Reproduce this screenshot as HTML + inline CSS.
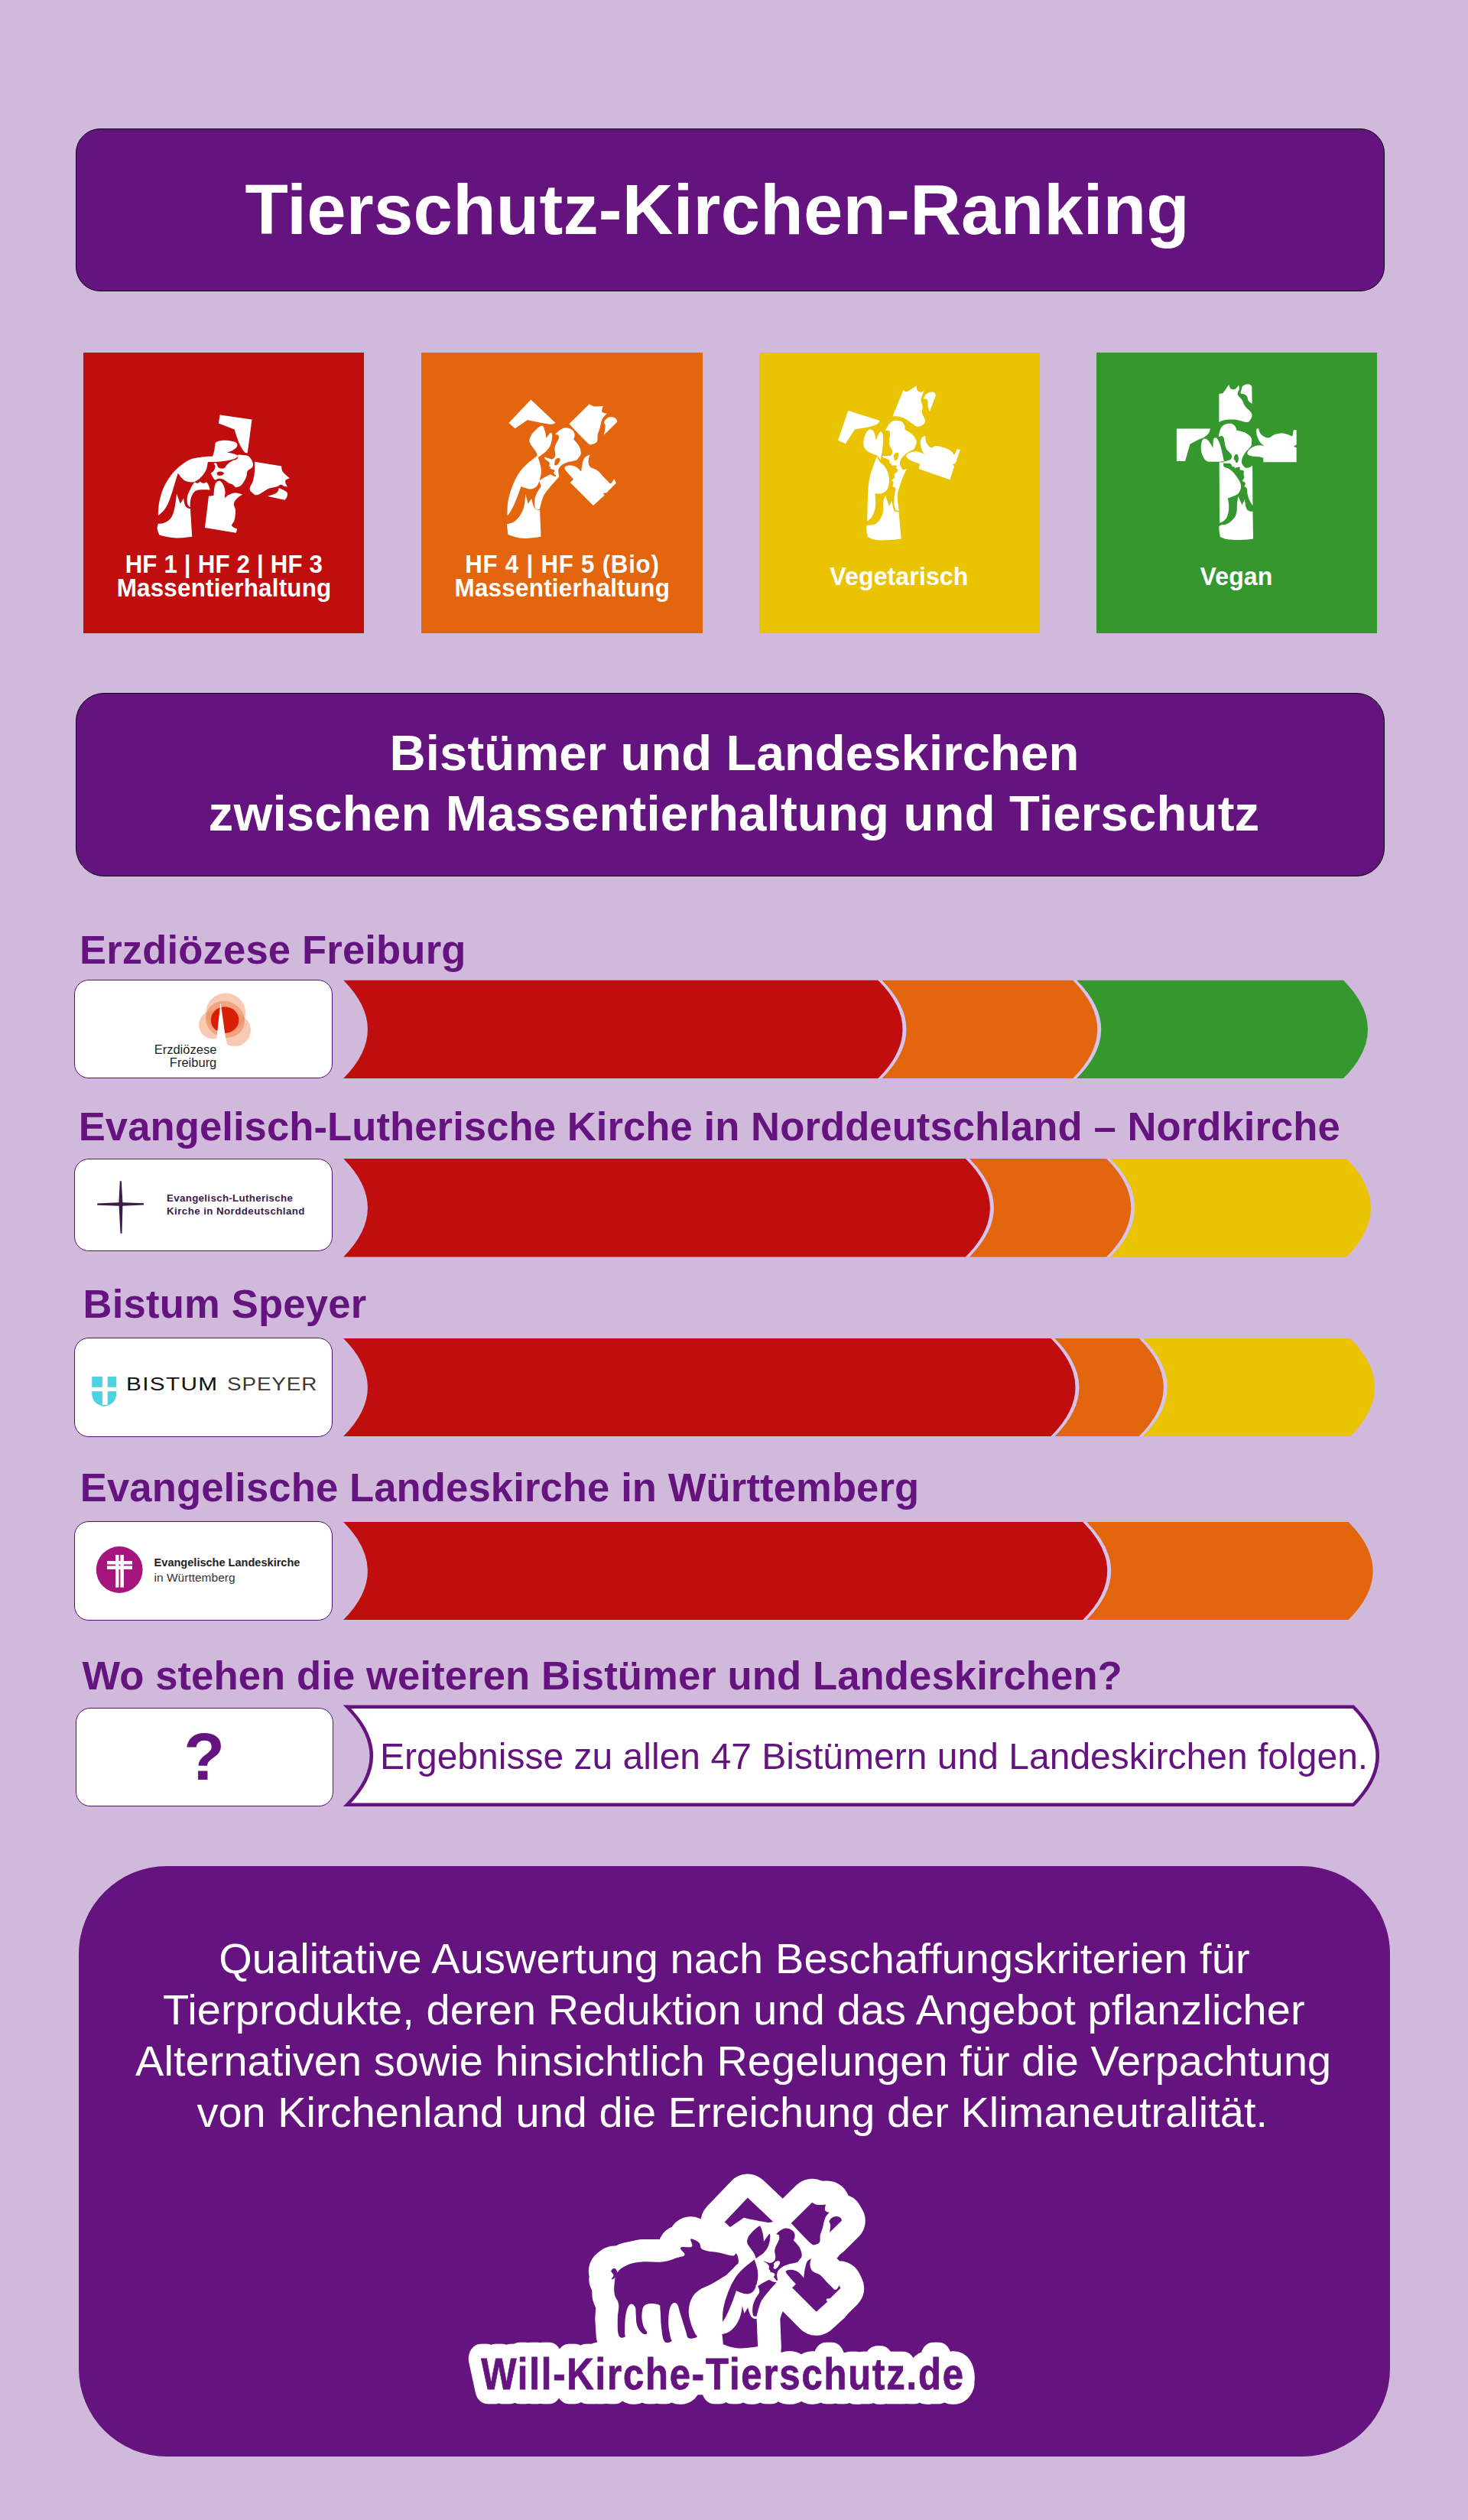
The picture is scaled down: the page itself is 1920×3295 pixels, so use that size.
<!DOCTYPE html>
<html lang="de"><head><meta charset="utf-8"><title>Tierschutz-Kirchen-Ranking</title>
<style>
html,body{margin:0;padding:0;background:#D1B9DB;}
body{width:1920px;height:3295px;background:#D1B9DB;position:relative;overflow:hidden;font-family:"Liberation Sans",sans-serif;}
.t{position:absolute;white-space:nowrap;}
.box{position:absolute;box-sizing:border-box;}
svg{position:absolute;left:0;top:0;}
</style></head><body>
<div class="box" style="left:99px;top:168px;width:1712px;height:212.5px;background:#64137F;border:1.6px solid #0a0410;border-radius:32px"></div>
<div class="box" style="left:99px;top:906px;width:1712.3px;height:240px;background:#64137F;border:1.6px solid #0a0410;border-radius:37px"></div>
<div class="box" style="left:102.5px;top:2439.6px;width:1715.2px;height:772.4px;background:#64137F;border-radius:115px"></div>
<div class="box" style="left:108.6px;top:460.5px;width:367.6px;height:367.6px;background:#C00E0E"></div>
<div class="box" style="left:551.0px;top:460.5px;width:367.6px;height:367.6px;background:#E3650E"></div>
<div class="box" style="left:992.7px;top:460.5px;width:367.6px;height:367.6px;background:#EAC403"></div>
<div class="box" style="left:1433.5px;top:460.5px;width:367.6px;height:367.6px;background:#35982F"></div>
<div class="box" style="left:97.1px;top:1280.7px;width:337.6px;height:129.5px;background:#fff;border:1.8px solid #56107A;border-radius:19px"></div>
<div class="box" style="left:97.1px;top:1514.6px;width:337.6px;height:121.6px;background:#fff;border:1.8px solid #56107A;border-radius:19px"></div>
<div class="box" style="left:97.1px;top:1748.9px;width:337.6px;height:129.8px;background:#fff;border:1.8px solid #56107A;border-radius:19px"></div>
<div class="box" style="left:97.1px;top:1989.1px;width:337.6px;height:129.8px;background:#fff;border:1.8px solid #56107A;border-radius:19px"></div>
<div class="box" style="left:98.5px;top:2232.8px;width:337.4px;height:129.6px;background:#fff;border:1.5px solid #56107A;border-radius:19px"></div>
<svg width="1920" height="3295" viewBox="0 0 1920 3295">
<path d="M1147.9,1281.8Q1211.9,1345.9 1147.9,1410L1154.1,1410Q1218.1,1345.9 1154.1,1281.8Z" fill="#D6C4EC"/>
<path d="M1402.6000000000001,1281.8Q1466.6000000000001,1345.9 1402.6000000000001,1410L1408.8,1410Q1472.8,1345.9 1408.8,1281.8Z" fill="#D6C4EC"/>
<path d="M449.2,1281.8L1148.5,1281.8Q1212.5,1345.9 1148.5,1410L449.2,1410Q512.6,1345.9 449.2,1281.8Z" fill="#C00E0E"/>
<path d="M1153.5,1281.8L1403.2,1281.8Q1467.2,1345.9 1403.2,1410L1153.5,1410Q1217.5,1345.9 1153.5,1281.8Z" fill="#E3650E"/>
<path d="M1408.2,1281.8L1757,1281.8Q1821,1345.9 1757,1410L1408.2,1410Q1472.2,1345.9 1408.2,1281.8Z" fill="#35982F"/>
<path d="M1262.3000000000002,1515Q1326.3000000000002,1579.25 1262.3000000000002,1643.5L1268.5,1643.5Q1332.5,1579.25 1268.5,1515Z" fill="#D6C4EC"/>
<path d="M1446.6000000000001,1515Q1510.6000000000001,1579.25 1446.6000000000001,1643.5L1452.8,1643.5Q1516.8,1579.25 1452.8,1515Z" fill="#D6C4EC"/>
<path d="M449.2,1515L1262.9,1515Q1326.9,1579.25 1262.9,1643.5L449.2,1643.5Q512.6,1579.25 449.2,1515Z" fill="#C00E0E"/>
<path d="M1267.9,1515L1447.2,1515Q1511.2,1579.25 1447.2,1643.5L1267.9,1643.5Q1331.9,1579.25 1267.9,1515Z" fill="#E3650E"/>
<path d="M1452.2,1515L1761,1515Q1825,1579.25 1761,1643.5L1452.2,1643.5Q1516.2,1579.25 1452.2,1515Z" fill="#EAC403"/>
<path d="M1373.9,1750Q1437.9,1814.0 1373.9,1878L1380.1,1878Q1444.1,1814.0 1380.1,1750Z" fill="#D6C4EC"/>
<path d="M1489.2,1750Q1553.2,1814.0 1489.2,1878L1495.3999999999999,1878Q1559.3999999999999,1814.0 1495.3999999999999,1750Z" fill="#D6C4EC"/>
<path d="M449.2,1750L1374.5,1750Q1438.5,1814.0 1374.5,1878L449.2,1878Q512.6,1814.0 449.2,1750Z" fill="#C00E0E"/>
<path d="M1379.5,1750L1489.8,1750Q1553.8,1814.0 1489.8,1878L1379.5,1878Q1443.5,1814.0 1379.5,1750Z" fill="#E3650E"/>
<path d="M1494.8,1750L1766,1750Q1830,1814.0 1766,1878L1494.8,1878Q1558.8,1814.0 1494.8,1750Z" fill="#EAC403"/>
<path d="M1415.6000000000001,1990Q1479.6000000000001,2054.0 1415.6000000000001,2118L1421.8,2118Q1485.8,2054.0 1421.8,1990Z" fill="#D6C4EC"/>
<path d="M449.2,1990L1416.2,1990Q1480.2,2054.0 1416.2,2118L449.2,2118Q512.6,2054.0 449.2,1990Z" fill="#C00E0E"/>
<path d="M1421.2,1990L1763.6,1990Q1827.6,2054.0 1763.6,2118L1421.2,2118Q1485.2,2054.0 1421.2,1990Z" fill="#E3650E"/>
<path d="M454,2231.8L1770,2231.8Q1833.4,2295.8 1770,2359.8L454,2359.8Q517.6,2295.8 454,2231.8Z" fill="#fff" stroke="#64137F" stroke-width="4.4" stroke-linejoin="miter"/>
<g transform="translate(190,530) scale(0.14306)"><path fill="#fff"  d="M682,88L975,130L935,435C935.0,435.0 917.5,439.2 905,425C892.5,410.8 875.0,384.2 860,350C845.0,315.8 815.0,220.0 815,220L670,165L682,88Z"/><path fill="#fff"  d="M640,345C640.0,345.0 648.3,332.2 665,328C681.7,323.8 712.5,318.0 740,320C767.5,322.0 813.7,330.3 830,340C846.3,349.7 843.0,366.3 838,378C833.0,389.7 815.5,401.3 800,410C784.5,418.7 745.0,430.0 745,430C745.0,430.0 781.7,435.0 800,440C818.3,445.0 855.0,460.0 855,460C855.0,460.0 839.2,479.2 820,487C800.8,494.8 770.0,502.0 740,507C710.0,512.0 668.3,515.7 640,517C611.7,518.3 570.0,515.0 570,515C570.0,515.0 602.0,485.8 612,470C622.0,454.2 625.3,440.8 630,420C634.7,399.2 640.0,345.0 640,345Z"/><path fill="#fff"  d="M620,470C608.0,462.5 536.7,470.0 500,475C463.3,480.0 433.3,484.2 400,500C366.7,515.8 330.0,543.3 300,570C270.0,596.7 243.3,626.7 220,660C196.7,693.3 175.8,730.0 160,770C144.2,810.0 132.0,860.3 125,900C118.0,939.7 118.0,1008.0 118,1008C118.0,1008.0 153.8,981.3 170,960C186.2,938.7 201.7,910.0 215,880C228.3,850.0 239.2,813.3 250,780C260.8,746.7 271.7,707.0 280,680C288.3,653.0 300.0,618.0 300,618C300.0,618.0 318.3,647.7 330,660C341.7,672.3 353.3,685.0 370,692C386.7,699.0 411.7,703.7 430,702C448.3,700.3 463.3,693.7 480,682C496.7,670.3 516.7,649.0 530,632C543.3,615.0 553.0,598.7 560,580C567.0,561.3 572.0,520.0 572,520C572.0,520.0 632.0,477.5 620,470Z"/><path fill="#fff"  d="M118,1082C118.0,1082.0 155.6,1084.4 180,1072C204.4,1059.6 222.0,1048.4 240,1020C258.0,991.6 260.6,972.4 270,930C279.4,887.6 287.0,808.0 287,808L320,900L350,850C350.0,850.0 357.6,906.0 370,925C382.4,944.0 412.0,945.0 412,945L428,1200C428.0,1200.0 345.6,1211.6 300,1212C254.4,1212.4 234.0,1207.4 200,1202C166.0,1196.6 130.0,1185.0 130,1185C130.0,1185.0 112.4,1150.6 110,1130C107.6,1109.4 118.0,1082.0 118,1082Z"/><path fill="#fff"  d="M430,730C436.7,718.3 450.0,700.0 450,700C450.0,700.0 471.7,712.8 480,712C488.3,711.2 500.0,695.0 500,695C500.0,695.0 520.0,711.2 530,712C540.0,712.8 560.0,700.0 560,700C560.0,700.0 574.7,718.0 580,730C585.3,742.0 592.0,772.0 592,772C592.0,772.0 558.7,769.5 540,770C521.3,770.5 496.7,770.0 480,775C463.3,780.0 450.8,785.8 440,800C429.2,814.2 420.0,838.0 415,860C410.0,882.0 410.0,932.0 410,932C410.0,932.0 389.2,917.0 385,900C380.8,883.0 380.8,851.7 385,830C389.2,808.3 402.5,786.7 410,770C417.5,753.3 423.3,741.7 430,730Z"/><path fill="#fff"  d="M580,830L625,825C625.0,825.0 629.9,744.8 640,720C650.1,695.2 666.2,688.2 680,690C693.8,691.8 705.8,711.7 715,730C724.2,748.3 728.2,768.0 730,790C731.8,812.0 725.0,850.0 725,850C725.0,850.0 742.6,829.2 760,820C777.4,810.8 796.2,800.9 820,800C843.8,799.1 890.0,815.0 890,815C890.0,815.0 854.7,834.4 840,850C825.3,865.6 812.8,879.8 810,900C807.2,920.2 824.1,932.5 825,960C825.9,987.5 821.4,1024.3 815,1050C808.6,1075.7 785.4,1085.3 790,1100C794.6,1114.7 840.0,1130.0 840,1130L830,1165L545,1118L580,830Z"/><path fill="#fff"  d="M850,450C850.0,450.0 883.3,451.7 900,455C916.7,458.3 935.8,457.5 950,470C964.2,482.5 980.8,513.3 985,530C989.2,546.7 983.3,558.3 975,570C966.7,581.7 943.3,586.7 935,600C926.7,613.3 930.8,633.3 925,650C919.2,666.7 909.2,685.8 900,700C890.8,714.2 882.5,726.7 870,735C857.5,743.3 825.0,750.0 825,750C825.0,750.0 810.8,731.7 800,725C789.2,718.3 773.3,717.5 760,710C746.7,702.5 735.0,686.7 720,680C705.0,673.3 683.3,669.7 670,670C656.7,670.3 648.3,683.7 640,682C631.7,680.3 626.7,670.3 620,660C613.3,649.7 600.0,620.0 600,620C600.0,620.0 618.3,610.0 625,600C631.7,590.0 640.0,571.7 640,560C640.0,548.3 625.0,530.0 625,530C625.0,530.0 642.5,523.3 650,530C657.5,536.7 658.3,562.5 670,570C681.7,577.5 706.7,580.0 720,575C733.3,570.0 738.3,550.8 750,540C761.7,529.2 775.0,518.3 790,510C805.0,501.7 830.0,500.0 840,490C850.0,480.0 850.0,450.0 850,450Z"/><path fill="#C00E0E"  d="M655,615C659.2,609.2 679.2,604.2 690,605C700.8,605.8 718.3,614.2 720,620C721.7,625.8 709.2,636.7 700,640C690.8,643.3 672.5,644.2 665,640C657.5,635.8 650.8,620.8 655,615Z"/><path fill="#fff"  d="M1000,515L1245,555C1245.0,555.0 1245.0,588.0 1260,610C1275.0,632.0 1320.0,665.0 1320,665C1320.0,665.0 1284.0,674.0 1280,690C1276.0,706.0 1300.0,745.0 1300,745C1300.0,745.0 1282.0,744.0 1270,740C1258.0,736.0 1254.0,724.0 1240,725C1226.0,726.0 1222.0,738.0 1200,745C1178.0,752.0 1154.0,751.0 1130,760C1106.0,769.0 1102.0,778.0 1080,790C1058.0,802.0 1040.0,818.0 1020,820C1000.0,822.0 993.0,812.0 980,800C967.0,788.0 954.0,782.0 955,760C956.0,738.0 976.0,722.0 985,690C994.0,658.0 997.0,635.0 1000,600C1003.0,565.0 1000.0,515.0 1000,515Z"/><path fill="#fff"  d="M1220,755C1220.0,755.0 1274.6,775.0 1290,790C1305.4,805.0 1300.0,815.0 1297,830C1294.0,845.0 1275.0,865.0 1275,865L1115,830C1115.0,830.0 1179.0,815.0 1200,800C1221.0,785.0 1220.0,755.0 1220,755Z"/></g>
<g transform="translate(640,510) scale(0.14306)"><path fill="#fff"  d="M380,88L605,300C605.0,300.0 580.8,312.0 560,312C539.2,312.0 506.7,304.5 480,300C453.3,295.5 421.7,289.7 400,285C378.3,280.3 350.0,272.0 350,272L235,352L178,300L380,88Z"/><path fill="#fff"  d="M915,128C915.0,128.0 939.2,147.2 960,150C980.8,152.8 1040.0,145.0 1040,145C1040.0,145.0 1024.2,188.3 1030,200C1035.8,211.7 1075.0,215.0 1075,215C1075.0,215.0 1040.8,247.5 1030,270C1019.2,292.5 1016.7,326.7 1010,350C1003.3,373.3 994.2,390.0 990,410C985.8,430.0 993.3,455.8 985,470C976.7,484.2 955.0,493.3 940,495C925.0,496.7 930.0,510.8 895,480C860.0,449.2 730.0,310.0 730,310L915,128Z"/><path fill="#fff"  d="M1090,250C1110.0,243.0 1134.0,247.0 1150,255C1166.0,263.0 1170.0,290.0 1170,290L1048,410C1048.0,410.0 1059.6,354.0 1060,330C1060.4,306.0 1044.0,306.0 1050,290C1056.0,274.0 1070.0,257.0 1090,250Z"/><path fill="#fff"  d="M480,325C496.7,325.0 503.3,360.8 510,380C516.7,399.2 520.0,440.0 520,440C520.0,440.0 550.8,393.3 560,390C569.2,386.7 575.0,401.7 575,420C575.0,438.3 569.2,476.7 560,500C550.8,523.3 533.3,545.0 520,560C506.7,575.0 493.3,580.0 480,590C466.7,600.0 440.0,620.0 440,620C440.0,620.0 441.7,593.3 430,570C418.3,546.7 379.2,503.3 370,480C360.8,456.7 368.3,446.7 375,430C381.7,413.3 392.5,397.5 410,380C427.5,362.5 463.3,325.0 480,325Z"/><path fill="#fff"  d="M602.3,403.4C602.3,403.4 620.6,384.8 632.8,374.9C645.0,365.0 651.0,360.0 663.2,353.9C675.4,347.8 681.5,345.5 693.7,344.4C705.9,343.3 712.8,344.8 724.2,348.2C735.6,351.6 741.8,355.4 750.9,361.5C760.0,367.6 764.2,369.9 769.9,378.7C775.6,387.5 777.9,394.6 779.4,405.3C780.9,416.0 779.4,422.8 777.5,432.0C775.6,441.2 769.9,451.1 769.9,451.1C769.9,451.1 778.3,458.7 785.2,466.3C792.1,473.9 796.6,478.5 804.2,489.2C811.8,499.9 817.2,506.7 823.3,519.6C829.4,532.5 832.0,540.9 834.7,553.9C837.4,566.9 837.7,574.5 836.6,584.4C835.5,594.3 829.0,603.5 829.0,603.5C829.0,603.5 821.3,611.9 815.6,618.7C809.9,625.5 807.3,632.4 800.4,637.7C793.5,643.0 781.3,645.4 781.3,645.4C781.3,645.4 766.1,648.8 754.7,651.1C743.3,653.4 736.4,653.4 724.2,656.8C712.0,660.2 704.4,663.6 693.7,668.2C683.0,672.8 679.3,674.4 670.9,679.7C662.5,685.0 658.7,688.1 651.8,694.9C644.9,701.7 640.8,705.5 636.6,713.9C632.4,722.3 631.7,727.6 630.9,736.8C630.1,746.0 631.3,749.0 632.8,759.7C634.3,770.4 638.5,790.1 638.5,790.1C638.5,790.1 624.7,804.6 617.5,801.6C610.3,798.6 608.4,784.0 602.3,774.9C596.2,765.8 587.8,763.5 587.0,755.9C586.2,748.3 600.0,742.9 598.5,736.8C597.0,730.7 588.5,729.2 579.4,725.4C570.3,721.6 552.8,717.8 552.8,717.8C552.8,717.8 561.9,710.9 560.4,706.3C558.9,701.7 545.1,694.9 545.1,694.9C545.1,694.9 548.1,689.6 548.9,683.5C549.7,677.4 552.7,672.0 548.9,664.4C545.1,656.8 537.9,652.3 529.9,645.4C521.9,638.5 513.9,637.0 508.9,630.1C503.9,623.2 505.1,611.1 505.1,611.1C505.1,611.1 518.1,615.7 526.1,618.7C534.1,621.7 536.0,623.6 545.1,626.3C554.2,629.0 562.7,632.8 571.8,632.0C580.9,631.2 584.7,628.2 590.8,622.5C596.9,616.8 600.0,612.6 602.3,603.5C604.6,594.4 603.4,589.8 602.3,576.8C601.2,563.8 595.8,553.9 596.6,538.7C597.4,523.5 601.2,514.3 606.1,500.6C611.0,486.9 615.6,482.3 621.3,470.1C627.0,457.9 632.4,451.0 634.7,439.6C637.0,428.2 632.8,413.0 632.8,413.0L602.3,403.4Z"/><path fill="#E3650E"  d="M598.5,645.4C602.3,637.8 609.1,630.5 617.5,626.3C625.9,622.1 634.3,622.1 640.4,624.4C646.5,626.7 648.8,629.7 648.0,637.7C647.2,645.7 643.5,654.5 636.6,664.4C629.7,674.3 622.1,683.5 613.7,687.3C605.3,691.1 597.7,688.1 594.7,683.5C591.7,678.9 597.7,672.0 598.5,664.4C599.3,656.8 594.7,653.0 598.5,645.4Z"/><path fill="#fff"  d="M440,600C440.0,600.0 465.0,670.0 470,700C475.0,730.0 475.0,751.7 470,780C465.0,808.3 455.0,849.2 440,870C425.0,890.8 405.0,903.3 380,905C355.0,906.7 290.0,880.0 290,880C290.0,880.0 265.0,953.3 250,990C235.0,1026.7 214.2,1073.3 200,1100C185.8,1126.7 165.0,1150.0 165,1150C165.0,1150.0 162.5,1065.0 170,1020C177.5,975.0 193.3,923.3 210,880C226.7,836.7 248.3,793.3 270,760C291.7,726.7 311.7,706.7 340,680C368.3,653.3 440.0,600.0 440,600Z"/><path fill="#fff"  d="M560,770C560.0,770.0 586.7,786.7 600,790C613.3,793.3 640.0,790.0 640,790C640.0,790.0 583.3,851.7 560,880C536.7,908.3 515.0,931.7 500,960C485.0,988.3 476.7,1028.3 470,1050C463.3,1071.7 460.0,1090.0 460,1090C460.0,1090.0 427.5,1095.0 420,1080C412.5,1065.0 411.7,1025.0 415,1000C418.3,975.0 430.8,950.0 440,930C449.2,910.0 467.5,896.7 470,880C472.5,863.3 455.0,830.0 455,830C455.0,830.0 482.5,810.0 500,800C517.5,790.0 560.0,770.0 560,770Z"/><path fill="#fff"  d="M330,950L355,1040L385,990C385.0,990.0 399.6,1059.0 415,1080C430.4,1101.0 462.0,1095.0 462,1095L472,1340C472.0,1340.0 360.4,1359.0 300,1355C239.6,1351.0 170.0,1320.0 170,1320L160,1225C160.0,1225.0 204.0,1219.0 230,1200C256.0,1181.0 272.0,1160.0 290,1130C308.0,1100.0 312.0,1086.0 320,1050C328.0,1014.0 330.0,950.0 330,950Z"/><path fill="#fff"  d="M740,845L770,815C770.0,815.0 698.3,740.8 690,720C681.7,699.2 703.3,693.3 720,690C736.7,686.7 770.0,690.8 790,700C810.0,709.2 840.0,745.0 840,745C840.0,745.0 845.0,700.8 850,680C855.0,659.2 858.3,635.0 870,620C881.7,605.0 920.0,590.0 920,590C920.0,590.0 905.0,631.7 905,650C905.0,668.3 910.8,688.3 920,700C929.2,711.7 946.7,712.5 960,720C973.3,727.5 986.7,733.3 1000,745C1013.3,756.7 1026.7,775.8 1040,790C1053.3,804.2 1068.3,819.2 1080,830C1091.7,840.8 1100.0,858.3 1110,855C1120.0,851.7 1140.0,810.0 1140,810L1160,850L1070,940C1070.0,940.0 1042.5,941.7 1040,945C1037.5,948.3 1055.0,960.0 1055,960L950,1055L740,845Z"/></g>
<g transform="translate(1080,490) scale(0.14306)"><path fill="#fff"  d="M710,140C710.0,140.0 725.0,158.3 740,155C755.0,151.7 785.0,129.2 800,120C815.0,110.8 830.0,100.0 830,100C830.0,100.0 828.3,130.0 835,140C841.7,150.0 859.2,160.0 870,160C880.8,160.0 900.0,140.0 900,140C900.0,140.0 890.0,165.0 885,180C880.0,195.0 870.0,211.7 870,230C870.0,248.3 883.3,270.0 885,290C886.7,310.0 875.8,328.3 880,350C884.2,371.7 908.3,402.5 910,420C911.7,437.5 901.7,445.8 890,455C878.3,464.2 856.7,476.7 840,475C823.3,473.3 808.3,456.7 790,445C771.7,433.3 748.3,415.0 730,405C711.7,395.0 699.7,389.2 680,385C660.3,380.8 612.0,380.0 612,380L710,140Z"/><path fill="#fff"  d="M940,165C957.0,158.0 977.0,155.0 990,160C1003.0,165.0 1005.0,190.0 1005,190L950,335C950.0,335.0 939.0,311.0 935,290C931.0,269.0 938.0,244.0 930,230C922.0,216.0 895.0,220.0 895,220C895.0,220.0 896.0,206.0 905,195C914.0,184.0 923.0,172.0 940,165Z"/><path fill="#fff"  d="M205,328L495,420C495.0,420.0 485.8,440.8 470,450C454.2,459.2 425.0,468.3 400,475C375.0,481.7 342.5,485.8 320,490C297.5,494.2 265.0,500.0 265,500L180,630L112,600L205,328Z"/><path fill="#fff"  d="M400,500C412.5,496.7 430.0,503.3 440,520C450.0,536.7 460.0,600.0 460,600C460.0,600.0 480.8,541.7 490,530C499.2,518.3 509.2,518.3 515,530C520.8,541.7 525.0,571.7 525,600C525.0,628.3 519.2,670.0 515,700C510.8,730.0 500.0,780.0 500,780C500.0,780.0 486.7,751.7 470,740C453.3,728.3 419.2,721.7 400,710C380.8,698.3 364.2,686.7 355,670C345.8,653.3 343.3,631.7 345,610C346.7,588.3 355.8,558.3 365,540C374.2,521.7 387.5,503.3 400,500Z"/><path fill="#fff"  d="M545.0,510.0C545.0,510.0 556.6,486.2 565.2,472.7C573.8,459.2 578.0,452.5 587.8,442.7C597.6,432.9 602.7,428.7 614.1,423.7C625.5,418.7 632.7,417.9 644.8,417.5C656.9,417.1 664.0,418.9 674.8,421.8C685.6,424.7 690.4,425.6 698.7,432.2C707.0,438.8 711.5,445.0 716.4,454.8C721.3,464.6 722.0,471.7 723.1,481.2C724.2,490.7 722.0,502.1 722.0,502.1C722.0,502.1 732.5,506.7 741.6,511.8C750.7,516.9 756.5,520.0 767.3,527.8C778.1,535.6 785.5,540.4 795.5,550.9C805.5,561.4 810.8,568.7 817.5,580.3C824.2,591.9 827.1,599.2 829.2,609.1C831.3,619.0 828.0,630.0 828.0,630.0C828.0,630.0 823.3,640.6 820.0,649.0C816.7,657.4 816.3,664.8 811.4,672.2C806.5,679.6 795.5,685.8 795.5,685.8C795.5,685.8 782.0,693.9 771.7,699.8C761.4,705.7 754.8,707.9 744.1,715.1C733.4,722.3 727.2,728.0 718.4,735.9C709.6,743.8 706.5,746.5 700.1,754.4C693.7,762.3 690.9,766.4 686.5,775.2C682.1,784.0 679.3,789.0 678.0,798.4C676.7,807.8 677.7,813.2 679.9,822.3C682.1,831.4 684.2,834.0 689.1,843.8C694.0,853.6 704.4,871.2 704.4,871.2C704.4,871.2 695.8,889.7 687.8,889.1C679.8,888.5 673.4,875.1 664.6,868.2C655.8,861.3 646.9,861.9 643.7,854.8C640.5,847.7 652.0,838.1 648.6,832.7C645.2,827.3 636.5,828.6 626.5,827.9C616.5,827.2 598.4,829.1 598.4,829.1C598.4,829.1 605.0,819.5 602.1,815.6C599.2,811.7 583.7,809.5 583.7,809.5C583.7,809.5 584.8,803.4 583.6,797.3C582.4,791.2 583.6,785.0 577.5,778.9C571.4,772.8 563.0,770.7 553.1,766.7C543.2,762.7 534.9,763.7 527.9,758.7C520.9,753.7 518.1,741.6 518.1,741.6C518.1,741.6 532.1,741.8 540.8,742.1C549.5,742.4 551.9,743.7 561.6,743.3C571.3,742.9 580.6,744.0 589.2,740.3C597.8,736.6 600.4,732.5 604.4,725.0C608.4,717.5 610.1,712.6 609.4,703.0C608.7,693.4 606.1,689.3 600.8,677.2C595.5,665.1 587.2,657.2 583.0,642.3C578.8,627.4 579.5,617.3 579.9,602.5C580.3,587.7 583.2,581.8 584.8,568.2C586.4,554.6 589.4,546.3 587.9,534.5C586.4,522.7 577.5,509.4 577.5,509.4L545.0,510.0Z"/><path fill="#EAC403"  d="M619.2,744.6C620.4,736.0 624.7,726.8 631.4,720.0C638.1,713.2 646.3,710.6 652.9,710.8C659.5,711.0 662.7,713.2 664.5,721.2C666.3,729.2 665.5,738.8 662.1,750.6C658.7,762.4 654.3,773.7 647.4,780.1C640.5,786.5 632.2,785.9 627.8,782.5C623.4,779.1 627.0,770.5 625.3,762.9C623.6,755.3 618.0,753.2 619.2,744.6Z"/><path fill="#fff"  d="M490,790C501.7,805.8 526.7,821.7 540,840C553.3,858.3 563.3,876.7 570,900C576.7,923.3 581.7,955.0 580,980C578.3,1005.0 571.7,1032.5 560,1050C548.3,1067.5 528.3,1079.2 510,1085C491.7,1090.8 450.0,1085.0 450,1085C450.0,1085.0 455.0,1125.8 455,1150C455.0,1174.2 455.8,1205.0 450,1230C444.2,1255.0 431.7,1281.7 420,1300C408.3,1318.3 380.0,1340.0 380,1340C380.0,1340.0 381.7,1165.0 385,1100C388.3,1035.0 390.8,996.7 400,950C409.2,903.3 428.3,854.2 440,820C451.7,785.8 470.0,745.0 470,745C470.0,745.0 478.3,774.2 490,790Z"/><path fill="#fff"  d="M660,855C660.0,855.0 686.7,869.2 700,870C713.3,870.8 740.0,860.0 740,860C740.0,860.0 711.7,920.0 700,950C688.3,980.0 677.5,1015.0 670,1040C662.5,1065.0 656.7,1076.7 655,1100C653.3,1123.3 657.5,1156.7 660,1180C662.5,1203.3 670.0,1240.0 670,1240L640,1240C640.0,1240.0 626.7,1205.0 625,1180C623.3,1155.0 627.5,1113.3 630,1090C632.5,1066.7 643.3,1051.7 640,1040C636.7,1028.3 610.0,1020.0 610,1020C610.0,1020.0 621.7,994.2 620,985C618.3,975.8 600.0,965.0 600,965C600.0,965.0 625.8,949.2 630,940C634.2,930.8 625.0,910.0 625,910C625.0,910.0 649.2,894.2 655,885C660.8,875.8 660.0,855.0 660,855Z"/><path fill="#fff"  d="M545,1105L580,1200L605,1150C605.0,1150.0 612.6,1220.0 625,1240C637.4,1260.0 667.0,1250.0 667,1250L690,1500C690.0,1500.0 646.0,1508.0 600,1510C554.0,1512.0 503.0,1516.0 460,1510C417.0,1504.0 385.0,1480.0 385,1480C385.0,1480.0 370.0,1421.0 370,1400C370.0,1379.0 371.0,1381.0 385,1375C399.0,1369.0 419.0,1379.0 440,1370C461.0,1361.0 473.0,1354.0 490,1330C507.0,1306.0 518.0,1282.0 525,1250C532.0,1218.0 521.0,1199.0 525,1170C529.0,1141.0 545.0,1105.0 545,1105Z"/><path fill="#fff"  d="M910,560C910.0,560.0 911.7,602.5 920,620C928.3,637.5 945.0,660.0 960,665C975.0,670.0 988.3,649.2 1010,650C1031.7,650.8 1066.7,661.7 1090,670C1113.3,678.3 1135.8,690.0 1150,700C1164.2,710.0 1166.7,733.3 1175,730C1183.3,726.7 1200.0,680.0 1200,680L1230,685L1185,810C1185.0,810.0 1161.7,815.8 1160,820C1158.3,824.2 1175.0,835.0 1175,835L1135,960L850,860L860,815C860.0,815.0 800.8,795.8 780,785C759.2,774.2 738.3,761.7 735,750C731.7,738.3 744.2,723.3 760,715C775.8,706.7 808.3,699.2 830,700C851.7,700.8 876.7,714.2 890,720C903.3,725.8 910.0,735.0 910,735C910.0,735.0 887.5,709.2 880,690C872.5,670.8 865.0,639.2 865,620C865.0,600.8 872.5,585.0 880,575C887.5,565.0 910.0,560.0 910,560Z"/></g>
<g transform="translate(1520,490) scale(0.14306)"><path fill="#fff"  d="M520,175L555,170L610,90C610.0,90.0 620.0,123.3 630,130C640.0,136.7 658.3,135.8 670,130C681.7,124.2 700.0,95.0 700,95C700.0,95.0 706.7,115.8 705,130C703.3,144.2 685.8,163.3 690,180C694.2,196.7 718.3,211.7 730,230C741.7,248.3 746.7,271.7 760,290C773.3,308.3 800.0,324.2 810,340C820.0,355.8 823.3,370.0 820,385C816.7,400.0 801.7,422.5 790,430C778.3,437.5 768.3,433.0 750,430C731.7,427.0 705.0,415.3 680,412C655.0,408.7 621.7,408.7 600,410C578.3,411.3 563.3,415.8 550,420C536.7,424.2 520.0,435.0 520,435L520,175Z"/><path fill="#fff"  d="M740,100C753.0,90.0 774.0,84.0 790,85C806.0,86.0 820.0,105.0 820,105L822,265C822.0,265.0 800.4,255.0 790,240C779.6,225.0 785.0,204.0 770,190C755.0,176.0 715.0,170.0 715,170C715.0,170.0 720.0,149.0 725,135C730.0,121.0 727.0,110.0 740,100Z"/><path fill="#fff"  d="M132,493L440,493C440.0,493.0 434.2,522.2 425,535C415.8,547.8 400.8,560.0 385,570C369.2,580.0 351.7,584.2 330,595C308.3,605.8 255.0,635.0 255,635L210,790L132,790L132,493Z"/><path fill="#fff"  d="M380,585C390.0,581.7 405.8,585.8 420,600C434.2,614.2 465.0,670.0 465,670C465.0,670.0 464.2,605.0 470,590C475.8,575.0 490.0,571.7 500,580C510.0,588.3 521.7,616.7 530,640C538.3,663.3 544.2,695.0 550,720C555.8,745.0 565.0,790.0 565,790C565.0,790.0 545.8,795.0 520,795C494.2,795.0 435.0,799.2 410,790C385.0,780.8 379.2,758.3 370,740C360.8,721.7 356.7,700.0 355,680C353.3,660.0 355.8,635.8 360,620C364.2,604.2 370.0,588.3 380,585Z"/><path fill="#fff"  d="M515.0,568.0C515.0,568.0 519.1,541.9 523.2,526.5C527.3,511.1 529.3,503.4 535.7,491.2C542.1,479.0 545.8,473.5 555.1,465.3C564.4,457.1 571.0,454.3 582.4,450.3C593.8,446.3 601.2,445.8 612.3,445.4C623.4,445.0 628.2,444.5 638.1,448.3C648.0,452.1 654.1,456.6 661.7,464.5C669.3,472.4 672.1,478.9 676.0,487.6C679.9,496.3 681.0,507.8 681.0,507.8C681.0,507.8 692.4,509.0 702.6,511.2C712.8,513.4 719.2,514.6 731.8,518.8C744.4,523.0 752.9,525.4 765.6,532.4C778.3,539.4 785.4,544.8 795.3,553.9C805.2,563.0 810.0,569.0 814.9,577.8C819.8,586.6 820.0,598.0 820.0,598.0C820.0,598.0 818.6,609.4 818.0,618.4C817.4,627.4 819.3,634.6 816.8,643.1C814.3,651.6 805.6,660.7 805.6,660.7C805.6,660.7 795.2,672.5 787.2,681.2C779.2,689.9 773.5,694.0 765.5,704.0C757.5,714.0 753.2,721.3 747.2,731.4C741.2,741.5 739.0,745.0 735.3,754.4C731.6,763.8 730.2,768.5 728.6,778.2C727.0,787.9 725.9,793.4 727.4,802.8C728.9,812.2 731.4,817.1 736.2,825.1C741.0,833.1 743.8,834.9 751.4,842.7C759.0,850.5 774.1,864.3 774.1,864.3C774.1,864.3 771.5,884.5 763.7,886.3C755.9,888.1 745.7,877.2 735.3,873.3C724.9,869.4 716.6,872.6 711.5,866.8C706.4,861.0 714.5,848.4 709.6,844.3C704.7,840.2 697.0,843.9 687.2,846.2C677.4,848.5 660.8,855.8 660.8,855.8C660.8,855.8 664.2,844.7 660.2,841.8C656.2,838.9 640.9,841.5 640.9,841.5C640.9,841.5 640.2,835.4 637.2,829.9C634.2,824.4 633.5,818.2 625.9,814.2C618.3,810.2 609.6,810.7 599.0,809.8C588.4,808.9 580.8,812.4 572.7,809.7C564.6,807.0 558.3,796.4 558.3,796.4C558.3,796.4 571.7,792.4 580.1,790.1C588.5,787.8 591.1,788.3 600.2,785.1C609.3,781.9 618.4,780.0 625.5,774.0C632.6,768.0 633.9,763.2 635.5,754.9C637.1,746.6 637.2,741.4 633.7,732.5C630.2,723.6 626.4,720.5 617.8,710.5C609.2,700.5 599.0,695.6 590.6,682.6C582.2,669.6 579.9,659.8 575.8,645.6C571.7,631.4 572.7,625.0 570.2,611.6C567.7,598.2 568.0,589.3 563.1,578.5C558.2,567.7 545.8,557.8 545.8,557.8L515.0,568.0Z"/><path fill="#35982F"  d="M655.4,769.1C654.0,760.6 655.3,750.6 659.7,742.2C664.1,733.8 671.0,728.7 677.4,727.0C683.8,725.3 687.4,726.5 691.5,733.5C695.6,740.5 697.7,750.0 698.0,762.2C698.3,774.4 697.4,786.5 692.8,794.6C688.2,802.7 680.1,804.7 674.9,802.7C669.7,800.7 670.6,791.5 666.7,784.8C662.8,778.1 656.8,777.6 655.4,769.1Z"/><path fill="#fff"  d="M522,800L565,800C565.0,800.0 554.0,827.0 565,840C576.0,853.0 597.0,847.0 620,865C643.0,883.0 660.0,901.0 680,930C700.0,959.0 716.0,980.0 720,1010C724.0,1040.0 714.0,1060.0 700,1080C686.0,1100.0 670.0,1100.0 650,1110C630.0,1120.0 600.0,1130.0 600,1130C600.0,1130.0 610.0,1170.0 610,1200C610.0,1230.0 608.0,1254.0 600,1280C592.0,1306.0 585.0,1315.0 570,1330C555.0,1345.0 525.0,1355.0 525,1355L522,800Z"/><path fill="#fff"  d="M760,850C760.0,850.0 777.0,854.0 790,850C803.0,846.0 825.0,830.0 825,830L828,1195C828.0,1195.0 809.6,1171.0 800,1150C790.4,1129.0 785.0,1112.0 780,1090C775.0,1068.0 781.0,1054.0 775,1040C769.0,1026.0 750.0,1020.0 750,1020C750.0,1020.0 764.0,1000.0 760,990C756.0,980.0 730.0,970.0 730,970C730.0,970.0 747.0,954.0 750,940C753.0,926.0 743.0,918.0 745,900C747.0,882.0 760.0,850.0 760,850Z"/><path fill="#fff"  d="M695,1110L730,1190L755,1140C755.0,1140.0 760.4,1208.0 775,1230C789.6,1252.0 828.0,1250.0 828,1250L832,1500C832.0,1500.0 766.4,1509.0 720,1510C673.6,1511.0 638.0,1511.0 600,1505C562.0,1499.0 530.0,1480.0 530,1480C530.0,1480.0 519.0,1421.0 520,1400C521.0,1379.0 521.0,1382.0 535,1375C549.0,1368.0 567.0,1376.0 590,1365C613.0,1354.0 632.0,1341.0 650,1320C668.0,1299.0 673.0,1288.0 680,1260C687.0,1232.0 682.0,1210.0 685,1180C688.0,1150.0 695.0,1110.0 695,1110Z"/><path fill="#fff"  d="M880,490C880.0,490.0 891.0,528.0 900,540C909.0,552.0 928.0,564.8 940,570C952.0,575.2 966.5,578.8 980,575C993.5,571.2 1012.0,551.0 1030,545C1048.0,539.0 1080.5,534.2 1100,535C1119.5,535.8 1146.5,546.2 1160,550C1173.5,553.8 1184.0,566.8 1190,560C1196.0,553.2 1200.0,505.0 1200,505L1228,505L1228,640C1228.0,640.0 1205.0,651.2 1205,655C1205.0,658.8 1228.0,665.0 1228,665L1228,798L925,798L925,760C925.0,760.0 895.8,752.2 880,750C864.2,747.8 835.0,748.8 820,745C805.0,741.2 784.5,733.2 780,725C775.5,716.8 781.0,700.5 790,690C799.0,679.5 823.5,661.8 840,655C856.5,648.2 885.8,645.0 900,645C914.2,645.0 935.0,655.0 935,655C935.0,655.0 900.5,625.8 890,610C879.5,594.2 869.2,566.5 865,550C860.8,533.5 859.8,509.0 862,500C864.2,491.0 880.0,490.0 880,490Z"/></g>
<g><circle cx="295.2" cy="1324.5" r="26" fill="#F19468" fill-opacity="0.5"/><circle cx="278.5" cy="1340" r="18.5" fill="#F19468" fill-opacity="0.5"/><circle cx="307" cy="1347" r="21" fill="#F19468" fill-opacity="0.5"/><clipPath id="efc"><circle cx="295.2" cy="1324.5" r="26"/><circle cx="278.5" cy="1340" r="18.5"/><circle cx="307" cy="1347" r="21"/></clipPath><ellipse cx="294.5" cy="1333" rx="26" ry="23.5" fill="#EC7F50" fill-opacity="0.5" clip-path="url(#efc)" transform="rotate(25 294.5 1333)"/><ellipse cx="294.1" cy="1333.7" rx="18.3" ry="17.2" fill="#D81E05"/><polygon points="288.5,1311 282.6,1364 296.6,1368" fill="#fff"/><polygon points="282.8,1358 282,1372 298,1372 295.6,1358" fill="#fff"/></g>
<path fill="#3b1c4a" d="M156.8,1544.3 L158.8,1544.3 L160.4,1572.2 L188,1573.3 L188,1575.5 L160.4,1576.8 L159.5,1612.8 L157.5,1612.8 L155.6,1576.8 L127.2,1575.7 L127.2,1573.5 L155.4,1572.2 Z"/>
<path fill="#4DD2E2" d="M120.2,1800H152.2V1822Q152.2,1836 136.2,1839Q120.2,1836 120.2,1822Z"/><rect x="133.9" y="1800" width="6.8" height="37" fill="#fff"/><rect x="120.2" y="1813.8" width="32" height="5.4" fill="#fff"/>
<circle cx="156.2" cy="2052.5" r="30.4" fill="#A6157E"/><g fill="#fff"><rect x="151.0" y="2033" width="4.5" height="42.6"/><rect x="157.4" y="2033" width="4.5" height="42.6"/><rect x="140" y="2041.0" width="33" height="4.5"/><rect x="140" y="2047.4" width="33" height="4.5"/></g>
<g transform="translate(760,2830) scale(0.26567)"><polygon fill="#fff" stroke="#fff" stroke-width="222" stroke-linejoin="round" points="165,580 180,530 230,495 300,480 400,480 470,460 510,445 490,410 545,405 540,368 580,385 600,420 680,435 745,450 765,440 775,480 760,500 720,540 690,560 640,590 580,620 545,660 530,720 540,780 560,830 570,850 530,855 515,820 490,740 470,685 440,700 430,780 440,850 445,870 410,870 395,800 390,720 380,690 320,690 300,730 305,790 325,830 300,830 275,790 270,740 265,700 240,690 220,740 215,820 215,850 185,840 180,760 185,690 165,640"/><polygon fill="#fff" stroke="#fff" stroke-width="222" stroke-linejoin="round" points="165,560 150,565 160,545 148,525 165,512 178,530 172,548"/><polygon fill="#fff" stroke="#fff" stroke-width="222" stroke-linejoin="round" points="820.0,158.0 953.4,283.7 926.7,290.8 879.3,283.7 831.9,274.8 802.2,267.1 734.0,314.6 700.2,283.7"/><polygon fill="#fff" stroke="#fff" stroke-width="222" stroke-linejoin="round" points="1137.3,181.7 1163.9,194.8 1211.4,191.8 1205.5,224.4 1232.1,233.3 1205.5,265.9 1193.6,313.4 1181.7,348.9 1178.8,384.5 1152.1,399.4 1125.4,390.5 1027.5,289.6"/><polygon fill="#fff" stroke="#fff" stroke-width="222" stroke-linejoin="round" points="1241.0,254.1 1276.6,257.0 1288.5,277.8 1216.1,348.9 1223.2,301.5 1217.3,277.8"/><polygon fill="#fff" stroke="#fff" stroke-width="222" stroke-linejoin="round" points="879.3,298.5 897.1,331.2 903.0,366.7 926.7,337.1 935.6,354.9 926.7,402.3 903.0,437.9 879.3,455.7 855.6,473.5 849.6,443.8 814.1,390.5 817.0,360.8 837.8,331.2"/><polygon fill="#fff" stroke="#fff" stroke-width="222" stroke-linejoin="round" points="951.8,345.0 969.9,328.1 987.9,315.7 1006.0,310.0 1024.1,312.3 1039.9,320.2 1051.2,330.4 1056.8,346.2 1055.7,362.0 1051.2,373.3 1060.3,382.3 1071.6,395.9 1082.9,413.9 1089.6,434.3 1090.8,452.4 1086.3,463.7 1078.3,472.7 1069.3,484.0 1058.0,488.5 1042.2,491.9 1024.1,495.3 1006.0,502.1 992.5,508.9 981.2,517.9 972.2,529.2 968.8,542.7 969.9,556.3 973.3,574.3 960.8,581.2 951.8,565.3 942.8,554.1 949.6,542.7 938.2,536.0 922.5,531.5 927.0,524.7 917.9,517.9 920.2,511.1 920.2,499.8 908.9,488.5 896.4,479.5 894.2,468.2 906.6,472.7 917.9,477.2 933.7,480.6 945.0,475.0 951.8,463.7 951.8,447.9 948.4,425.3 954.1,402.7 963.1,384.6 971.0,366.5 969.9,350.7"/><polygon fill="#fff" stroke="#fff" stroke-width="222" stroke-linejoin="round" points="855.6,461.6 873.4,520.9 873.4,568.4 855.6,621.7 820.0,642.5 766.6,627.7 742.9,692.9 713.3,758.1 692.5,787.8 695.5,710.7 719.2,627.7 754.8,556.5 796.3,509.1"/><polygon fill="#fff" stroke="#fff" stroke-width="222" stroke-linejoin="round" points="926.7,562.4 950.5,574.3 974.2,574.3 926.7,627.7 891.2,675.1 873.4,728.5 867.4,752.2 843.7,746.3 840.8,698.8 855.6,657.3 873.4,627.7 864.5,598.0 891.2,580.2"/><polygon fill="#fff" stroke="#fff" stroke-width="222" stroke-linejoin="round" points="790.4,669.2 805.2,722.5 823.0,692.9 840.8,746.3 868.6,755.2 874.6,900.4 772.6,909.3 695.5,888.6 689.5,832.2 731.0,817.4 766.6,775.9 784.4,728.5"/><polygon fill="#fff" stroke="#fff" stroke-width="222" stroke-linejoin="round" points="1033.5,606.9 1051.3,589.1 1003.8,532.8 1021.6,515.0 1063.1,520.9 1092.8,547.6 1098.7,509.1 1110.6,473.5 1140.2,455.7 1131.3,491.3 1140.2,520.9 1163.9,532.8 1187.7,547.6 1211.4,574.3 1235.1,598.0 1252.9,612.8 1270.7,586.1 1282.5,609.9 1229.2,663.2 1211.4,666.2 1220.3,675.1 1158.0,731.4"/></g>
<text transform="translate(945.5,3124) scale(0.854,1)" x="0" y="0" text-anchor="middle" font-family="Liberation Sans, sans-serif" font-weight="bold" font-size="57.4" letter-spacing="2.15" fill="#fff" stroke="#fff" stroke-width="36" stroke-linejoin="round" stroke-linecap="round" vector-effect="non-scaling-stroke">Will-Kirche-Tierschutz.de</text>
<text transform="translate(945.5,3124) scale(0.854,1)" x="0" y="0" text-anchor="middle" font-family="Liberation Sans, sans-serif" font-weight="bold" font-size="57.4" letter-spacing="2.15" fill="#fff" stroke="#fff" stroke-width="14" stroke-linejoin="round" vector-effect="non-scaling-stroke">Will-Kirche-Tierschutz.de</text>
<g transform="translate(760,2830) scale(0.26567)"><path fill="#64137F"  d="M165,580C168.0,558.0 167.0,547.0 180,530C193.0,513.0 206.0,505.0 230,495C254.0,485.0 266.0,483.0 300,480C334.0,477.0 366.0,484.0 400,480C434.0,476.0 448.0,467.0 470,460C492.0,453.0 506.0,455.0 510,445C514.0,435.0 483.0,418.0 490,410C497.0,402.0 535.0,413.4 545,405C555.0,396.6 533.0,372.0 540,368C547.0,364.0 568.0,374.6 580,385C592.0,395.4 580.0,410.0 600,420C620.0,430.0 651.0,429.0 680,435C709.0,441.0 728.0,449.0 745,450C762.0,451.0 759.0,434.0 765,440C771.0,446.0 776.0,468.0 775,480C774.0,492.0 771.0,488.0 760,500C749.0,512.0 734.0,528.0 720,540C706.0,552.0 706.0,550.0 690,560C674.0,570.0 662.0,578.0 640,590C618.0,602.0 599.0,606.0 580,620C561.0,634.0 555.0,640.0 545,660C535.0,680.0 531.0,696.0 530,720C529.0,744.0 534.0,758.0 540,780C546.0,802.0 554.0,816.0 560,830C566.0,844.0 576.0,845.0 570,850C564.0,855.0 541.0,861.0 530,855C519.0,849.0 523.0,843.0 515,820C507.0,797.0 499.0,767.0 490,740C481.0,713.0 480.0,693.0 470,685C460.0,677.0 448.0,681.0 440,700C432.0,719.0 430.0,750.0 430,780C430.0,810.0 437.0,832.0 440,850C443.0,868.0 451.0,866.0 445,870C439.0,874.0 420.0,884.0 410,870C400.0,856.0 399.0,830.0 395,800C391.0,770.0 393.0,742.0 390,720C387.0,698.0 394.0,696.0 380,690C366.0,684.0 336.0,682.0 320,690C304.0,698.0 303.0,710.0 300,730C297.0,750.0 300.0,770.0 305,790C310.0,810.0 326.0,822.0 325,830C324.0,838.0 310.0,838.0 300,830C290.0,822.0 281.0,808.0 275,790C269.0,772.0 272.0,758.0 270,740C268.0,722.0 271.0,710.0 265,700C259.0,690.0 249.0,682.0 240,690C231.0,698.0 225.0,714.0 220,740C215.0,766.0 216.0,798.0 215,820C214.0,842.0 221.0,846.0 215,850C209.0,854.0 192.0,858.0 185,840C178.0,822.0 180.0,790.0 180,760C180.0,730.0 188.0,714.0 185,690C182.0,666.0 169.0,662.0 165,640C161.0,618.0 162.0,602.0 165,580Z"/><path fill="#64137F"  d="M165,560C160.6,563.4 151.0,568.0 150,565C149.0,562.0 160.4,553.0 160,545C159.6,537.0 147.0,531.6 148,525C149.0,518.4 159.0,511.0 165,512C171.0,513.0 176.6,522.8 178,530C179.4,537.2 174.6,542.0 172,548C169.4,554.0 169.4,556.6 165,560Z"/><path fill="#64137F" stroke="#fff" stroke-width="9" d="M820.0,158.0L953.4,283.7C953.4,283.7 939.1,290.8 926.7,290.8C914.4,290.8 895.1,286.4 879.3,283.7C863.5,281.0 844.8,277.6 831.9,274.8C819.0,272.0 802.2,267.1 802.2,267.1L734.0,314.6L700.2,283.7L820.0,158.0Z"/><path fill="#64137F" stroke="#fff" stroke-width="9" d="M1137.3,181.7C1137.3,181.7 1151.6,193.1 1163.9,194.8C1176.2,196.5 1211.4,191.8 1211.4,191.8C1211.4,191.8 1202.0,217.5 1205.5,224.4C1209.0,231.3 1232.1,233.3 1232.1,233.3C1232.1,233.3 1211.9,252.5 1205.5,265.9C1199.1,279.2 1197.6,299.6 1193.6,313.4C1189.6,327.2 1184.2,337.0 1181.7,348.9C1179.2,360.8 1183.7,376.1 1178.8,384.5C1173.9,392.9 1161.0,398.4 1152.1,399.4C1143.2,400.4 1146.2,408.8 1125.4,390.5C1104.6,372.2 1027.5,289.6 1027.5,289.6L1137.3,181.7Z"/><path fill="#64137F" stroke="#fff" stroke-width="9" d="M1241.0,254.1C1252.9,249.9 1267.1,252.3 1276.6,257.0C1286.1,261.7 1288.5,277.8 1288.5,277.8L1216.1,348.9C1216.1,348.9 1223.0,315.7 1223.2,301.5C1223.4,287.3 1213.7,287.3 1217.3,277.8C1220.9,268.3 1229.1,258.3 1241.0,254.1Z"/><path fill="#64137F" stroke="#fff" stroke-width="9" d="M879.3,298.5C889.2,298.5 893.1,319.8 897.1,331.2C901.1,342.6 903.0,366.7 903.0,366.7C903.0,366.7 921.3,339.1 926.7,337.1C932.1,335.1 935.6,344.0 935.6,354.9C935.6,365.8 932.1,388.5 926.7,402.3C921.3,416.1 910.9,429.0 903.0,437.9C895.1,446.8 887.2,449.8 879.3,455.7C871.4,461.6 855.6,473.5 855.6,473.5C855.6,473.5 856.5,457.6 849.6,443.8C842.7,430.0 819.5,404.3 814.1,390.5C808.7,376.7 813.0,370.7 817.0,360.8C821.0,350.9 827.4,341.6 837.8,331.2C848.2,320.8 869.4,298.5 879.3,298.5Z"/><path fill="#64137F" stroke="#fff" stroke-width="9" d="M951.8,345.0C951.8,345.0 962.7,334.0 969.9,328.1C977.1,322.2 980.7,319.3 987.9,315.7C995.1,312.1 998.8,310.7 1006.0,310.0C1013.2,309.3 1017.3,310.3 1024.1,312.3C1030.9,314.3 1034.5,316.6 1039.9,320.2C1045.3,323.8 1047.8,325.2 1051.2,330.4C1054.6,335.6 1055.9,339.9 1056.8,346.2C1057.7,352.5 1056.8,356.6 1055.7,362.0C1054.6,367.4 1051.2,373.3 1051.2,373.3C1051.2,373.3 1056.2,377.8 1060.3,382.3C1064.4,386.8 1067.1,389.6 1071.6,395.9C1076.1,402.2 1079.3,406.2 1082.9,413.9C1086.5,421.6 1088.0,426.6 1089.6,434.3C1091.2,442.0 1091.5,446.5 1090.8,452.4C1090.1,458.3 1086.3,463.7 1086.3,463.7C1086.3,463.7 1081.7,468.6 1078.3,472.7C1074.9,476.8 1073.4,480.8 1069.3,484.0C1065.2,487.2 1058.0,488.5 1058.0,488.5C1058.0,488.5 1049.0,490.5 1042.2,491.9C1035.4,493.3 1031.3,493.3 1024.1,495.3C1016.9,497.3 1012.3,499.4 1006.0,502.1C999.7,504.8 997.5,505.7 992.5,508.9C987.5,512.1 985.3,513.8 981.2,517.9C977.1,522.0 974.7,524.2 972.2,529.2C969.7,534.2 969.3,537.3 968.8,542.7C968.3,548.1 969.0,550.0 969.9,556.3C970.8,562.6 973.3,574.3 973.3,574.3C973.3,574.3 965.1,583.0 960.8,581.2C956.5,579.4 955.4,570.7 951.8,565.3C948.2,559.9 943.2,558.6 942.8,554.1C942.4,549.6 950.5,546.3 949.6,542.7C948.7,539.1 943.6,538.2 938.2,536.0C932.8,533.8 922.5,531.5 922.5,531.5C922.5,531.5 927.9,527.4 927.0,524.7C926.1,522.0 917.9,517.9 917.9,517.9C917.9,517.9 919.7,514.7 920.2,511.1C920.7,507.5 922.5,504.3 920.2,499.8C917.9,495.3 913.7,492.6 908.9,488.5C904.1,484.4 899.3,483.6 896.4,479.5C893.5,475.4 894.2,468.2 894.2,468.2C894.2,468.2 901.9,470.9 906.6,472.7C911.3,474.5 912.5,475.6 917.9,477.2C923.3,478.8 928.3,481.0 933.7,480.6C939.1,480.2 941.4,478.4 945.0,475.0C948.6,471.6 950.4,469.1 951.8,463.7C953.2,458.3 952.5,455.6 951.8,447.9C951.1,440.2 947.9,434.3 948.4,425.3C948.9,416.3 951.2,410.8 954.1,402.7C957.0,394.6 959.7,391.8 963.1,384.6C966.5,377.4 969.6,373.3 971.0,366.5C972.4,359.7 969.9,350.7 969.9,350.7L951.8,345.0Z"/><path fill="#64137F" stroke="#fff" stroke-width="9" d="M855.6,461.6C855.6,461.6 870.4,503.1 873.4,520.9C876.4,538.7 876.4,551.6 873.4,568.4C870.4,585.2 864.5,609.4 855.6,621.7C846.7,634.1 834.8,641.5 820.0,642.5C805.2,643.5 766.6,627.7 766.6,627.7C766.6,627.7 751.8,671.2 742.9,692.9C734.0,714.6 721.7,742.3 713.3,758.1C704.9,773.9 692.5,787.8 692.5,787.8C692.5,787.8 691.0,737.4 695.5,710.7C700.0,684.0 709.3,653.4 719.2,627.7C729.1,602.0 741.9,576.3 754.8,556.5C767.6,536.7 779.5,524.9 796.3,509.1C813.1,493.3 855.6,461.6 855.6,461.6Z"/><path fill="#64137F" stroke="#fff" stroke-width="9" d="M926.7,562.4C926.7,562.4 942.6,572.3 950.5,574.3C958.4,576.3 974.2,574.3 974.2,574.3C974.2,574.3 940.5,610.9 926.7,627.7C912.9,644.5 900.1,658.3 891.2,675.1C882.3,691.9 877.4,715.6 873.4,728.5C869.4,741.4 867.4,752.2 867.4,752.2C867.4,752.2 848.1,755.2 843.7,746.3C839.3,737.4 838.8,713.6 840.8,698.8C842.8,684.0 850.2,669.1 855.6,657.3C861.0,645.4 871.9,637.6 873.4,627.7C874.9,617.8 864.5,598.0 864.5,598.0C864.5,598.0 880.8,586.1 891.2,580.2C901.6,574.3 926.7,562.4 926.7,562.4Z"/><path fill="#64137F" stroke="#fff" stroke-width="9" d="M790.4,669.2L805.2,722.5L823.0,692.9C823.0,692.9 831.7,733.8 840.8,746.3C849.9,758.8 868.6,755.2 868.6,755.2L874.6,900.4C874.6,900.4 808.4,911.7 772.6,909.3C736.8,906.9 695.5,888.6 695.5,888.6L689.5,832.2C689.5,832.2 715.6,828.7 731.0,817.4C746.4,806.1 755.9,793.7 766.6,775.9C777.3,758.1 779.6,749.8 784.4,728.5C789.2,707.2 790.4,669.2 790.4,669.2Z"/><path fill="#64137F" stroke="#fff" stroke-width="9" d="M1033.5,606.9L1051.3,589.1C1051.3,589.1 1008.8,545.1 1003.8,532.8C998.8,520.4 1011.7,517.0 1021.6,515.0C1031.5,513.0 1051.2,515.5 1063.1,520.9C1075.0,526.3 1092.8,547.6 1092.8,547.6C1092.8,547.6 1095.7,521.5 1098.7,509.1C1101.7,496.8 1103.7,482.4 1110.6,473.5C1117.5,464.6 1140.2,455.7 1140.2,455.7C1140.2,455.7 1131.3,480.4 1131.3,491.3C1131.3,502.2 1134.8,514.0 1140.2,520.9C1145.6,527.8 1156.0,528.3 1163.9,532.8C1171.8,537.2 1179.8,540.7 1187.7,547.6C1195.6,554.5 1203.5,565.9 1211.4,574.3C1219.3,582.7 1228.2,591.6 1235.1,598.0C1242.0,604.4 1247.0,614.8 1252.9,612.8C1258.8,610.8 1270.7,586.1 1270.7,586.1L1282.5,609.9L1229.2,663.2C1229.2,663.2 1212.9,664.2 1211.4,666.2C1209.9,668.2 1220.3,675.1 1220.3,675.1L1158.0,731.4L1033.5,606.9Z"/><path fill="#fff"  d="M949.6,488.5C951.8,484.0 955.8,479.7 960.8,477.2C965.8,474.7 970.8,474.7 974.4,476.1C978.0,477.5 979.3,479.3 978.9,484.0C978.5,488.7 976.3,493.9 972.2,499.8C968.1,505.7 963.6,511.1 958.6,513.4C953.6,515.7 949.1,513.8 947.3,511.1C945.5,508.4 949.1,504.3 949.6,499.8C950.1,495.3 947.4,493.0 949.6,488.5Z"/></g>
<text transform="translate(945.5,3124) scale(0.854,1)" x="0" y="0" text-anchor="middle" font-family="Liberation Sans, sans-serif" font-weight="bold" font-size="57.4" letter-spacing="2.15" fill="#64137F" stroke="#64137F" stroke-width="0.8" vector-effect="non-scaling-stroke">Will-Kirche-Tierschutz.de</text>
</svg>
<div class="t" style="left:320.4px;top:219.2px;font-size:92.3px;line-height:111px;font-weight:bold;color:#fff;letter-spacing:0.25px;">Tierschutz-Kirchen-Ranking</div>
<div class="t" style="left:-39.5px;width:2000px;text-align:center;top:946.1px;font-size:65.3px;line-height:78px;font-weight:bold;color:#fff;letter-spacing:0.08px;">Bistümer und Landeskirchen</div>
<div class="t" style="left:-40px;width:2000px;text-align:center;top:1024.7px;font-size:65.3px;line-height:78px;font-weight:bold;color:#fff;letter-spacing:0.2px;">zwischen Massentierhaltung und Tierschutz</div>
<div class="t" style="left:104px;top:1210.0px;font-size:52.6px;line-height:63px;font-weight:bold;color:#64137F;letter-spacing:0.15px;">Erzdiözese Freiburg</div>
<div class="t" style="left:102.7px;top:1440.7px;font-size:52.6px;line-height:63px;font-weight:bold;color:#64137F;letter-spacing:0.077px;">Evangelisch-Lutherische Kirche in Norddeutschland – Nordkirche</div>
<div class="t" style="left:108.6px;top:1673.3px;font-size:52.6px;line-height:63px;font-weight:bold;color:#64137F;letter-spacing:0.19px;">Bistum Speyer</div>
<div class="t" style="left:104.8px;top:1913.3px;font-size:52.6px;line-height:63px;font-weight:bold;color:#64137F;letter-spacing:0.11px;">Evangelische Landeskirche in Württemberg</div>
<div class="t" style="left:107.4px;top:2159.3px;font-size:52.6px;line-height:63px;font-weight:bold;color:#64137F;letter-spacing:0.108px;">Wo stehen die weiteren Bistümer und Landeskirchen?</div>
<div class="t" style="left:-732.75px;width:2000px;text-align:center;top:2244.2px;font-size:88px;line-height:106px;font-weight:bold;color:#64137F;">?</div>
<div class="t" style="left:496.9px;top:2267.6px;font-size:48.04px;line-height:58px;font-weight:normal;color:#64137F;">Ergebnisse zu allen 47 Bistümern und Landeskirchen folgen.</div>
<div class="t" style="left:-39.549999999999955px;width:2000px;text-align:center;top:2526.6px;font-size:55.9px;line-height:67px;font-weight:normal;color:#fff;letter-spacing:0.14px;">Qualitative Auswertung nach Beschaffungskriterien für</div>
<div class="t" style="left:-40.10000000000002px;width:2000px;text-align:center;top:2593.9px;font-size:55.9px;line-height:67px;font-weight:normal;color:#fff;letter-spacing:0.13px;">Tierprodukte, deren Reduktion und das Angebot pflanzlicher</div>
<div class="t" style="left:-40.799999999999955px;width:2000px;text-align:center;top:2661.2px;font-size:55.9px;line-height:67px;font-weight:normal;color:#fff;letter-spacing:0.072px;">Alternativen sowie hinsichtlich Regelungen für die Verpachtung</div>
<div class="t" style="left:-42.25px;width:2000px;text-align:center;top:2728.4px;font-size:55.9px;line-height:67px;font-weight:normal;color:#fff;letter-spacing:0.045px;">von Kirchenland und die Erreichung der Klimaneutralität.</div>
<div class="t" style="left:-707.15px;width:2000px;text-align:center;top:719.6px;font-size:31.2px;line-height:37px;font-weight:bold;color:#fff;letter-spacing:0.2px;transform:scaleY(1.05);transform-origin:50% 29.3px;">HF 1 | HF 2 | HF 3</div>
<div class="t" style="left:-706.95px;width:2000px;text-align:center;top:751.4px;font-size:31.4px;line-height:38px;font-weight:bold;color:#fff;letter-spacing:0.2px;transform:scaleY(1.05);transform-origin:50% 29.9px;">Massentierhaltung</div>
<div class="t" style="left:-264.6px;width:2000px;text-align:center;top:719.6px;font-size:31.2px;line-height:37px;font-weight:bold;color:#fff;letter-spacing:0.8px;transform:scaleY(1.05);transform-origin:50% 29.3px;">HF 4 | HF 5 (Bio)</div>
<div class="t" style="left:-264.70000000000005px;width:2000px;text-align:center;top:751.4px;font-size:31.4px;line-height:38px;font-weight:bold;color:#fff;letter-spacing:0.25px;transform:scaleY(1.05);transform-origin:50% 29.9px;">Massentierhaltung</div>
<div class="t" style="left:175.9000000000001px;width:2000px;text-align:center;top:734.9px;font-size:32.1px;line-height:39px;font-weight:bold;color:#fff;letter-spacing:0.1px;transform:scaleY(1.05);transform-origin:50% 30.6px;">Vegetarisch</div>
<div class="t" style="left:617px;width:2000px;text-align:center;top:734.9px;font-size:32.1px;line-height:39px;font-weight:bold;color:#fff;letter-spacing:0.1px;transform:scaleY(1.05);transform-origin:50% 30.6px;">Vegan</div>
<div class="t" style="left:-1716.7px;width:2000px;text-align:right;top:1361.9px;font-size:16.5px;line-height:20px;font-weight:normal;color:#231f20;">Erzdiözese</div>
<div class="t" style="left:-1716.7px;width:2000px;text-align:right;top:1379.3px;font-size:16.5px;line-height:20px;font-weight:normal;color:#231f20;">Freiburg</div>
<div class="t" style="left:218px;top:1558.6px;font-size:13.3px;line-height:16px;font-weight:bold;color:#3b1c4a;letter-spacing:0.34px;">Evangelisch-Lutherische</div>
<div class="t" style="left:218px;top:1576.0px;font-size:13.3px;line-height:16px;font-weight:bold;color:#3b1c4a;letter-spacing:0.44px;">Kirche in Norddeutschland</div>
<div class="t" style="left:165px;top:1795.0px;font-size:24.4px;line-height:29px;font-weight:normal;color:#111;letter-spacing:1.1px;transform:scaleX(1.22);transform-origin:0 0;">BISTUM</div>
<div class="t" style="left:296.5px;top:1795.0px;font-size:24.4px;line-height:29px;font-weight:normal;color:#3a3a3a;letter-spacing:0.8px;transform:scaleX(1.14);transform-origin:0 0;">SPEYER</div>
<div class="t" style="left:201.6px;top:2035.4px;font-size:14.55px;line-height:17px;font-weight:bold;color:#222;">Evangelische Landeskirche</div>
<div class="t" style="left:201.6px;top:2052.7px;font-size:15.5px;line-height:19px;font-weight:normal;color:#333;">in Württemberg</div>
</body></html>
